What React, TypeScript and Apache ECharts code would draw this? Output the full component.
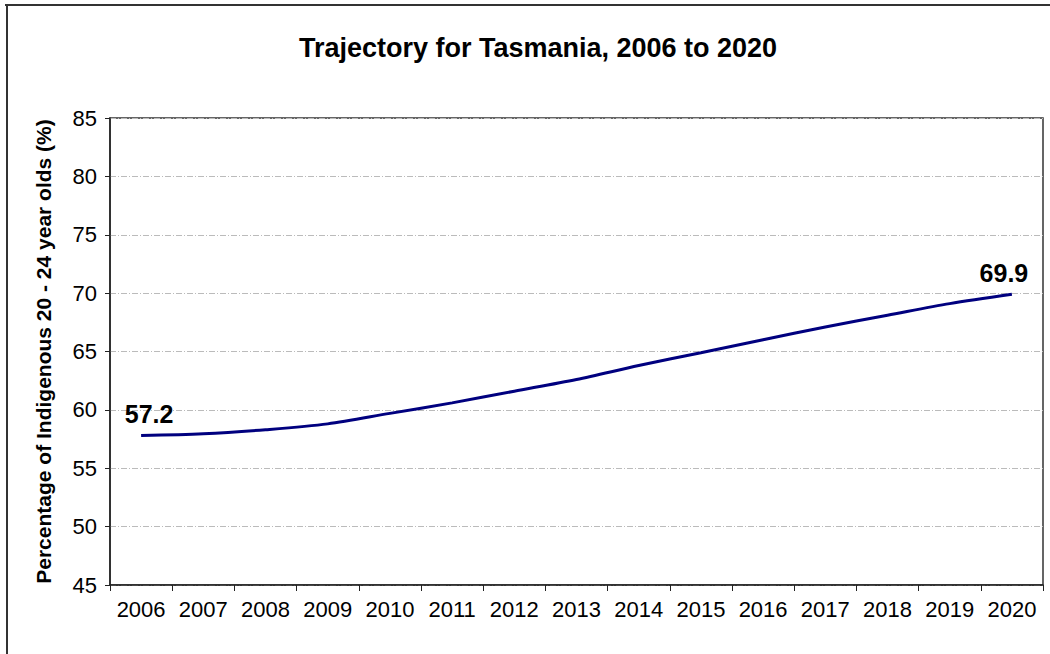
import React, { useEffect, useRef } from "react";
import * as echarts from "echarts";

const years = ["2006", "2007", "2008", "2009", "2010", "2011", "2012", "2013", "2014", "2015", "2016", "2017", "2018", "2019", "2020"];
const trajectory = [57.8, 57.95, 58.3, 58.8, 59.7, 60.6, 61.6, 62.6, 63.8, 64.9, 66.0, 67.1, 68.1, 69.1, 69.9];
const endLabels = ["57.2", "69.9"];
const titleText = "Trajectory for Tasmania, 2006 to 2020";
const yAxisTitle = "Percentage of Indigenous 20 - 24 year olds (%)";

export default function App() {
  const ref = useRef<HTMLDivElement>(null);
  useEffect(() => {
    if (!ref.current) return;
    const chart = echarts.init(ref.current, undefined, { renderer: "svg" });
    const font = "'Liberation Sans', Arial, sans-serif";
    const last = trajectory.length - 1;
    chart.setOption({
      animation: false,
      backgroundColor: "#ffffff",
      textStyle: { fontFamily: font },
      title: {
        text: titleText,
        left: 533,
        top: 29,
        textAlign: "center",
        textStyle: { fontFamily: font, fontSize: 27, fontWeight: "bold", color: "#000" },
      },
      grid: {
        left: 110,
        top: 118,
        right: 7,
        bottom: 69,
        show: true,
        borderColor: "#333",
        borderWidth: 1.5,
        backgroundColor: "transparent",
      },
      xAxis: {
        type: "category",
        data: years,
        boundaryGap: true,
        axisLine: { lineStyle: { color: "#222", width: 1.5 } },
        axisTick: { show: true, alignWithLabel: false, length: 6, lineStyle: { color: "#222" } },
        axisLabel: { color: "#000", fontSize: 22, margin: 13, fontFamily: font, interval: 0 },
        splitLine: { show: false },
      },
      yAxis: {
        type: "value",
        min: 45,
        max: 85,
        interval: 5,
        name: yAxisTitle,
        nameLocation: "middle",
        nameGap: 56,
        nameTextStyle: { fontFamily: font, fontSize: 21, fontWeight: "bold", color: "#000" },
        axisLine: { show: true, lineStyle: { color: "#222", width: 1.5 } },
        axisTick: { show: true, length: 5, lineStyle: { color: "#222" } },
        axisLabel: { color: "#000", fontSize: 22, margin: 13, fontFamily: font },
        splitLine: { show: true, lineStyle: { color: "#bbbbbb", width: 1, type: [6, 2, 1, 2] } },
      },
      series: [
        {
          type: "line",
          data: trajectory,
          smooth: 0.3,
          symbol: "circle",
          symbolSize: 0,
          showSymbol: true,
          itemStyle: { color: "#00007f" },
          lineStyle: { color: "#00007f", width: 3 },
          label: {
            show: true,
            position: "top",
            distance: 9,
            fontFamily: font,
            fontSize: 25,
            fontWeight: "bold",
            color: "#000",
            formatter: (p: any) => (p.dataIndex === 0 ? endLabels[0] : p.dataIndex === last ? endLabels[1] : ""),
          },
          labelLayout: (p: any) => {
            if (p.dataIndex === 0) return { dx: 8 };
            if (p.dataIndex === last) return { dx: -8 };
            return {};
          },
        },
      ],
      graphic: [
        { type: "line", shape: { x1: 5, y1: 5, x2: 1050, y2: 5 }, style: { stroke: "#333", lineWidth: 2 } },
        { type: "line", shape: { x1: 7, y1: 5, x2: 7, y2: 654 }, style: { stroke: "#333", lineWidth: 2 } },
      ],
    });
    return () => chart.dispose();
  }, []);
  return (
    <div
      ref={ref}
      style={{ position: "fixed", left: 0, top: 0, width: 1050, height: 654 }}
    />
  );
}
